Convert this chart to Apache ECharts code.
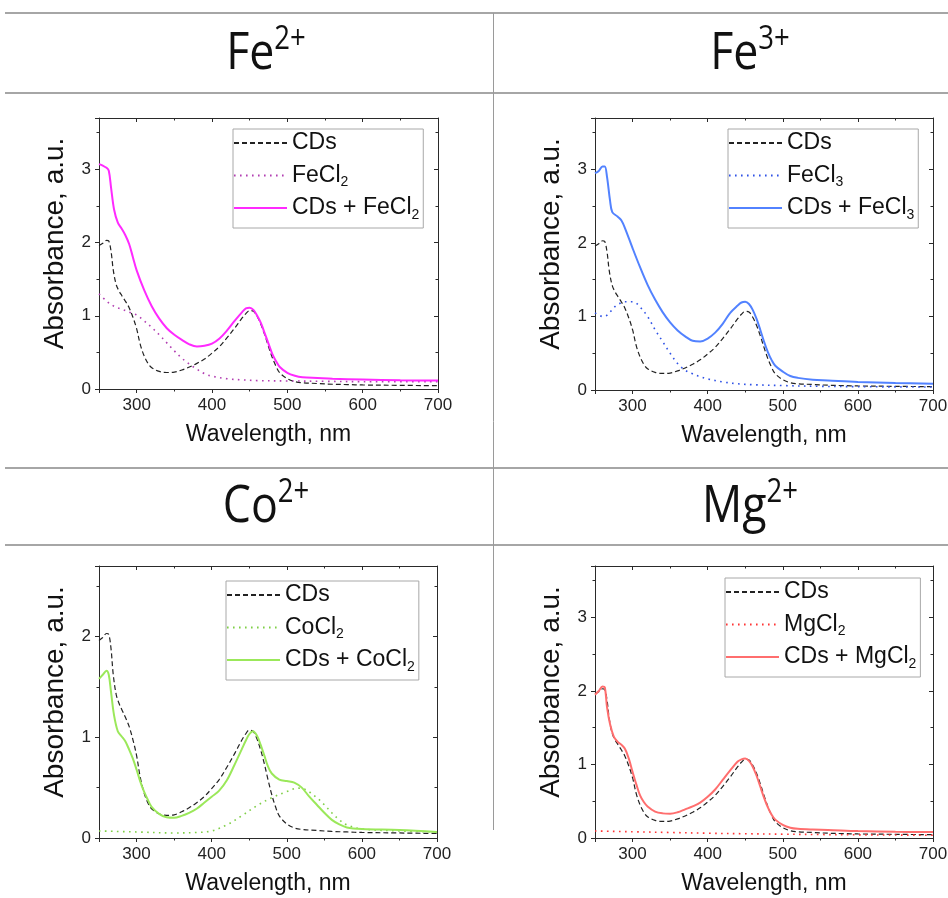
<!DOCTYPE html>
<html><head><meta charset="utf-8">
<script src="https://cdn.jsdelivr.net/npm/echarts@6/dist/echarts.min.js"></script>
<style>html,body{margin:0;padding:0;background:#fff}#c{width:948px;height:898px}</style>
</head><body><div id="c"></div><script>
// ---------- data ----------
const xTicks = [300, 400, 500, 600, 700];
const panelTitles = ['Fe{sup|2+}', 'Fe{sup|3+}', 'Co{sup|2+}', 'Mg{sup|2+}'];
const saltNames = ['FeCl2', 'FeCl3', 'CoCl2', 'MgCl2'];
const comboNames = ['CDs + FeCl2', 'CDs + FeCl3', 'CDs + CoCl2', 'CDs + MgCl2'];
const yMax = [3.7, 3.7, 2.7, 3.7];

const wlCDs  = [250,255,260,263,266,269,273,277,280,285,290,295,300,305,310,315,320,330,340,350,360,370,380,390,400,410,420,430,440,445,450,455,460,465,470,475,480,485,490,500,510,520,540,560,580,600,650,700];
const absCDs = [1.96,1.99,2.03,2.02,1.88,1.62,1.42,1.33,1.28,1.20,1.11,0.98,0.82,0.60,0.45,0.35,0.29,0.24,0.225,0.23,0.26,0.30,0.35,0.41,0.49,0.58,0.70,0.83,0.97,1.03,1.07,1.06,0.99,0.88,0.74,0.58,0.43,0.31,0.22,0.14,0.10,0.085,0.075,0.065,0.06,0.055,0.05,0.045];

const wlFeCl2  = [250,260,270,280,290,300,310,320,330,340,350,360,370,380,390,400,420,440,460,500,550,600,700];
const absFeCl2 = [1.30,1.20,1.13,1.09,1.05,1.01,0.93,0.84,0.74,0.63,0.52,0.42,0.34,0.27,0.21,0.175,0.14,0.125,0.115,0.11,0.105,0.10,0.10];
const wlFe2  = [250,255,260,263,266,270,275,280,285,290,295,300,310,320,330,340,350,360,370,380,390,400,410,420,430,440,445,450,455,460,465,470,475,480,485,490,500,510,520,540,560,600,650,700];
const absFe2 = [3.07,3.05,3.02,2.98,2.75,2.45,2.27,2.19,2.10,1.98,1.80,1.62,1.35,1.13,0.96,0.83,0.74,0.67,0.61,0.58,0.59,0.62,0.69,0.80,0.93,1.05,1.10,1.11,1.08,1.00,0.90,0.76,0.62,0.48,0.38,0.30,0.22,0.18,0.16,0.15,0.14,0.13,0.12,0.115];

const wlFeCl3  = [250,255,260,265,270,275,280,290,300,305,310,320,330,340,350,360,370,380,390,400,420,440,460,500,550,600,700];
const absFeCl3 = [1.05,1.02,1.00,1.01,1.06,1.12,1.16,1.20,1.20,1.18,1.13,1.00,0.82,0.66,0.50,0.36,0.27,0.22,0.18,0.15,0.11,0.085,0.072,0.06,0.05,0.045,0.04];
const wlFe3  = [250,255,260,263,266,270,273,280,285,290,300,310,320,330,340,350,360,370,380,390,400,410,420,430,440,445,450,455,460,465,470,475,480,485,490,500,510,520,540,560,600,650,700];
const absFe3 = [2.95,2.98,3.04,3.04,2.90,2.58,2.42,2.36,2.31,2.20,1.93,1.67,1.43,1.23,1.06,0.92,0.81,0.73,0.67,0.66,0.70,0.78,0.90,1.05,1.15,1.19,1.20,1.17,1.09,0.97,0.82,0.66,0.52,0.41,0.33,0.25,0.19,0.165,0.14,0.13,0.11,0.095,0.085];

const wlCoCl2  = [250,300,350,380,400,420,440,460,480,500,515,525,540,550,560,570,580,600,650,700];
const absCoCl2 = [0.07,0.06,0.05,0.055,0.07,0.13,0.22,0.32,0.40,0.46,0.495,0.48,0.40,0.33,0.25,0.18,0.13,0.09,0.07,0.06];
const wlCo  = [250,255,260,263,266,270,275,280,285,290,295,300,305,310,315,320,330,340,350,360,370,380,390,400,410,420,430,440,445,450,455,460,465,470,475,480,490,500,510,520,530,540,550,560,570,580,600,650,700];
const absCo = [1.58,1.62,1.66,1.62,1.45,1.22,1.06,1.01,0.96,0.88,0.79,0.68,0.56,0.46,0.38,0.31,0.24,0.205,0.20,0.22,0.25,0.29,0.35,0.41,0.47,0.57,0.72,0.88,0.96,1.03,1.06,1.02,0.93,0.82,0.71,0.64,0.58,0.565,0.55,0.50,0.41,0.33,0.25,0.18,0.135,0.105,0.09,0.08,0.06];

const wlMgCl2  = [250,300,350,400,450,500,550,600,650,700];
const absMgCl2 = [0.095,0.085,0.075,0.065,0.058,0.052,0.047,0.043,0.04,0.037];
const wlMg  = [250,255,260,263,266,270,275,280,285,290,295,300,305,310,315,320,330,340,350,360,370,380,390,400,410,420,430,440,445,450,455,460,465,470,475,480,485,490,500,510,520,540,560,600,650,700];
const absMg = [1.95,2.00,2.06,2.05,1.78,1.55,1.38,1.31,1.27,1.21,1.08,0.90,0.73,0.58,0.49,0.43,0.36,0.335,0.33,0.35,0.39,0.43,0.48,0.56,0.66,0.79,0.92,1.04,1.07,1.08,1.05,0.97,0.85,0.70,0.55,0.42,0.32,0.25,0.18,0.14,0.125,0.115,0.11,0.095,0.085,0.08];

// ---------- build ----------
const pairs = (xs, ys) => xs.map((x, i) => [x, ys[i]]);
const saltData = [pairs(wlFeCl2, absFeCl2), pairs(wlFeCl3, absFeCl3), pairs(wlCoCl2, absCoCl2), pairs(wlMgCl2, absMgCl2)];
const comboData = [pairs(wlFe2, absFe2), pairs(wlFe3, absFe3), pairs(wlCo, absCo), pairs(wlMg, absMg)];
const cdsData = pairs(wlCDs, absCDs);

const saltColors = ['#b23fb2', '#2f52e6', '#7fcf47', '#ff3535'];
const comboColors = ['#ff2aff', '#5282ff', '#9be85a', '#ff6e6e'];

const grids = [
  {left: 99, top: 118, width: 339, height: 271},
  {left: 595, top: 118, width: 338, height: 272},
  {left: 99, top: 566, width: 338, height: 272},
  {left: 595, top: 566, width: 338, height: 272}
];
const legendPos = [
  {left: 233, top: 129}, {left: 728, top: 129}, {left: 226, top: 581}, {left: 725, top: 578}
];
const FONT = 'Liberation Sans';
const axisColor = '#2a2a2a';

const xAxes = [], yAxes = [], series = [], legends = [];
grids.forEach((g, p) => {
  g.containLabel = false; g.outerBoundsMode = 'none';
  const xBase = {
    type: 'value', gridIndex: p, min: 250, max: 700, splitNumber: 5,
    axisLine: {show: true, onZero: false, lineStyle: {color: axisColor, width: 1}},
    splitLine: {show: false},
    minorTick: {show: true, splitNumber: 2, length: 2.5, lineStyle: {color: axisColor}},
    axisTick: {show: true, length: 4, lineStyle: {color: axisColor}}
  };
  xAxes.push(Object.assign({}, xBase, {
    position: 'bottom',
    axisLabel: {show: true, margin: 8, fontSize: 17, fontFamily: FONT, color: '#222',
      formatter: v => (xTicks.indexOf(v) >= 0 ? String(v) : '')},
    name: 'Wavelength, nm', nameLocation: 'middle', nameGap: 34,
    nameTextStyle: {fontSize: 23, fontFamily: FONT, color: '#111'}
  }));
  xAxes.push(Object.assign({}, xBase, {
    position: 'top', axisLabel: {show: false},
    axisTick: {show: true, inside: true, length: 4, lineStyle: {color: axisColor}}
  }));
  const yBase = {
    type: 'value', gridIndex: p, min: 0, max: yMax[p], interval: 1,
    axisLine: {show: true, onZero: false, lineStyle: {color: axisColor, width: 1}},
    splitLine: {show: false},
    minorTick: {show: true, splitNumber: 2, length: 2.5, lineStyle: {color: axisColor}},
    axisTick: {show: true, length: 4, lineStyle: {color: axisColor}}
  };
  yAxes.push(Object.assign({}, yBase, {
    position: 'left',
    axisLabel: {show: true, margin: 8, fontSize: 17, fontFamily: FONT, color: '#222',
      formatter: v => (Number.isInteger(v) ? String(v) : '')},
    name: 'Absorbance, a.u.', nameLocation: 'middle', nameGap: 30,
    nameTextStyle: {fontSize: 28, fontFamily: FONT, color: '#111', padding: [0, 0, 0, 20]}
  }));
  yAxes.push(Object.assign({}, yBase, {
    position: 'right', axisLabel: {show: false},
    axisTick: {show: true, inside: true, length: 4, lineStyle: {color: axisColor}}
  }));
  const common = {type: 'line', xAxisIndex: 2 * p, yAxisIndex: 2 * p, symbol: 'none', showSymbol: false, smooth: 0.35, animation: false, silent: true};
  series.push(Object.assign({}, common, {name: 'CDs', data: cdsData,
    lineStyle: {color: '#222', width: 1.2, type: [5, 3]}, itemStyle: {color: '#222'}}));
  series.push(Object.assign({}, common, {name: saltNames[p], data: saltData[p],
    lineStyle: {color: saltColors[p], width: 1.6, type: [1.6, 4.4]}, itemStyle: {color: saltColors[p]}}));
  series.push(Object.assign({}, common, {name: comboNames[p], data: comboData[p],
    lineStyle: {color: comboColors[p], width: 2}, itemStyle: {color: comboColors[p]}}));
  legends.push({
    orient: 'vertical', left: legendPos[p].left, top: legendPos[p].top,
    itemWidth: 53, itemHeight: 12, itemGap: 4.5, padding: [0, 4, 6, 0],
    borderColor: '#a8a8a8', borderWidth: 1, selectedMode: false,
    itemStyle: {opacity: 0, borderWidth: 0},
    data: ['CDs', saltNames[p], comboNames[p]],
    formatter: name => name.replace(/(\d)$/, '{s|$1}'),
    textStyle: {fontSize: 23, fontFamily: FONT, color: '#111', lineHeight: 28,
      rich: {s: {fontSize: 14, lineHeight: 4, verticalAlign: 'bottom', fontFamily: FONT, color: '#111'}}}
  });
});

const headerPos = [[266, 54], [750, 54], [266, 507], [750, 507]];
const graphic = [];
[13, 93, 468, 545].forEach(y => graphic.push({type: 'line', silent: true,
  shape: {x1: 5, y1: y, x2: 948, y2: y}, style: {stroke: '#a6a6a6', lineWidth: 2}}));
graphic.push({type: 'line', silent: true, shape: {x1: 493.5, y1: 13, x2: 493.5, y2: 830}, style: {stroke: '#9a9a9a', lineWidth: 1}});
panelTitles.forEach((t, i) => graphic.push({type: 'text', silent: true, x: headerPos[i][0], y: headerPos[i][1], scaleX: 0.86,
  style: {x: 0, y: 0, text: t, fontSize: 52, fontFamily: 'Open Sans', fill: '#111', align: 'center', verticalAlign: 'middle', lineHeight: 60,
    rich: {sup: {fontSize: 32, lineHeight: 22, verticalAlign: 'top', fontFamily: 'Open Sans', fill: '#111'}}}}));

const chart = echarts.init(document.getElementById('c'), null, {renderer: 'canvas'});
chart.setOption({
  backgroundColor: '#fff', animation: false,
  grid: grids, xAxis: xAxes, yAxis: yAxes, series: series, legend: legends, graphic: graphic
});
</script></body></html>
